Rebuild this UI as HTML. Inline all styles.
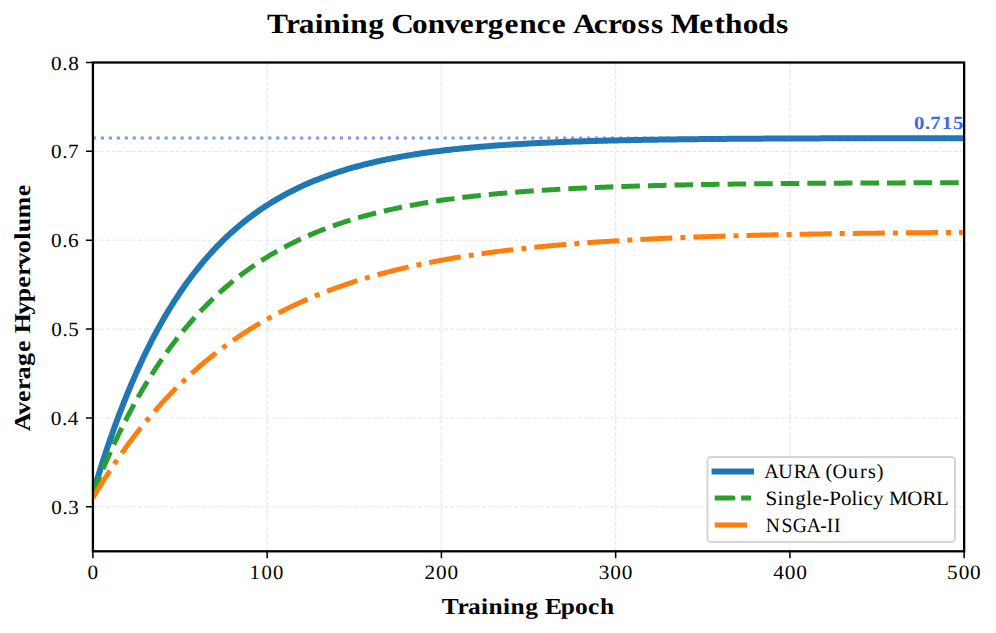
<!DOCTYPE html><html><head><meta charset="utf-8"><title>Training Convergence Across Methods</title><style>html,body{margin:0;padding:0;background:#fff;}svg{display:block;}text{font-family:"Liberation Serif",serif;font-kerning:none;text-rendering:geometricPrecision;}</style></head><body>
<svg width="996" height="633" viewBox="0 0 996 633">
<rect width="996" height="633" fill="#fff"/>
<defs><clipPath id="ax"><rect x="92.92" y="62.50" width="871.22" height="488.80"/></clipPath></defs>
<g clip-path="url(#ax)">
<path d="M92.92 551.30 V62.50 M267.16 551.30 V62.50 M441.41 551.30 V62.50 M615.65 551.30 V62.50 M789.90 551.30 V62.50 M964.14 551.30 V62.50 M92.92 506.85 H964.14 M92.92 417.98 H964.14 M92.92 329.11 H964.14 M92.92 240.24 H964.14 M92.92 151.37 H964.14 M92.92 62.50 H964.14" stroke="#b0b0b0" stroke-opacity="0.3" stroke-width="1.20" stroke-dasharray="4.450 1.925" fill="none"/>
<path d="M92.92 493.52 L94.66 487.64 L96.4 481.87 L98.15 476.18 L99.89 470.59 L101.63 465.1 L103.37 459.69 L105.12 454.37 L106.86 449.15 L108.6 444 L110.34 438.95 L112.09 433.97 L113.83 429.08 L115.57 424.27 L117.31 419.54 L119.06 414.89 L120.8 410.31 L122.54 405.81 L124.28 401.39 L126.03 397.03 L127.77 392.75 L129.51 388.54 L131.25 384.4 L133 380.33 L134.74 376.32 L136.48 372.39 L138.22 368.51 L139.97 364.7 L141.71 360.96 L143.45 357.27 L145.19 353.65 L146.94 350.09 L148.68 346.58 L150.42 343.13 L152.16 339.74 L153.91 336.41 L155.65 333.13 L157.39 329.91 L159.13 326.74 L160.88 323.62 L162.62 320.55 L164.36 317.53 L166.1 314.57 L167.84 311.65 L169.59 308.78 L171.33 305.96 L173.07 303.18 L174.81 300.45 L176.56 297.77 L178.3 295.13 L180.04 292.53 L181.78 289.98 L183.53 287.47 L185.27 285 L187.01 282.57 L188.75 280.18 L190.5 277.83 L192.24 275.52 L193.98 273.25 L195.72 271.01 L197.47 268.81 L199.21 266.65 L200.95 264.53 L202.69 262.44 L204.44 260.38 L206.18 258.36 L207.92 256.37 L209.66 254.41 L211.41 252.49 L213.15 250.6 L214.89 248.74 L216.63 246.91 L218.38 245.11 L220.12 243.34 L221.86 241.6 L223.6 239.89 L225.35 238.2 L227.09 236.55 L228.83 234.92 L230.57 233.32 L232.32 231.74 L234.06 230.19 L235.8 228.67 L237.54 227.17 L239.28 225.7 L241.03 224.25 L242.77 222.83 L244.51 221.42 L246.25 220.05 L248 218.69 L249.74 217.36 L251.48 216.05 L253.22 214.76 L254.97 213.49 L256.71 212.24 L258.45 211.02 L260.19 209.81 L261.94 208.62 L263.68 207.46 L265.42 206.31 L267.16 205.18 L268.91 204.07 L270.65 202.98 L272.39 201.91 L274.13 200.85 L275.88 199.81 L277.62 198.79 L279.36 197.79 L281.1 196.8 L282.85 195.83 L284.59 194.87 L286.33 193.93 L288.07 193.01 L289.82 192.1 L291.56 191.21 L293.3 190.33 L295.04 189.47 L296.79 188.62 L298.53 187.78 L300.27 186.96 L302.01 186.15 L303.76 185.35 L305.5 184.57 L307.24 183.8 L308.98 183.05 L310.73 182.3 L312.47 181.57 L314.21 180.85 L315.95 180.14 L317.69 179.45 L319.44 178.76 L321.18 178.09 L322.92 177.43 L324.66 176.78 L326.41 176.14 L328.15 175.51 L329.89 174.89 L331.63 174.28 L333.38 173.68 L335.12 173.09 L336.86 172.51 L338.6 171.94 L340.35 171.38 L342.09 170.83 L343.83 170.29 L345.57 169.75 L347.32 169.23 L349.06 168.72 L350.8 168.21 L352.54 167.71 L354.29 167.22 L356.03 166.74 L357.77 166.26 L359.51 165.8 L361.26 165.34 L363 164.89 L364.74 164.44 L366.48 164.01 L368.23 163.58 L369.97 163.15 L371.71 162.74 L373.45 162.33 L375.2 161.93 L376.94 161.53 L378.68 161.15 L380.42 160.76 L382.17 160.39 L383.91 160.02 L385.65 159.66 L387.39 159.3 L389.13 158.95 L390.88 158.6 L392.62 158.26 L394.36 157.93 L396.1 157.6 L397.85 157.28 L399.59 156.96 L401.33 156.65 L403.07 156.34 L404.82 156.04 L406.56 155.74 L408.3 155.45 L410.04 155.16 L411.79 154.87 L413.53 154.6 L415.27 154.32 L417.01 154.05 L418.76 153.79 L420.5 153.53 L422.24 153.27 L423.98 153.02 L425.73 152.77 L427.47 152.53 L429.21 152.29 L430.95 152.05 L432.7 151.82 L434.44 151.6 L436.18 151.37 L437.92 151.15 L439.67 150.93 L441.41 150.72 L443.15 150.51 L444.89 150.31 L446.64 150.1 L448.38 149.9 L450.12 149.71 L451.86 149.51 L453.61 149.32 L455.35 149.14 L457.09 148.95 L458.83 148.77 L460.57 148.6 L462.32 148.42 L464.06 148.25 L465.8 148.08 L467.54 147.92 L469.29 147.75 L471.03 147.59 L472.77 147.43 L474.51 147.28 L476.26 147.13 L478 146.98 L479.74 146.83 L481.48 146.68 L483.23 146.54 L484.97 146.4 L486.71 146.26 L488.45 146.13 L490.2 145.99 L491.94 145.86 L493.68 145.73 L495.42 145.6 L497.17 145.48 L498.91 145.36 L500.65 145.24 L502.39 145.12 L504.14 145 L505.88 144.88 L507.62 144.77 L509.36 144.66 L511.11 144.55 L512.85 144.44 L514.59 144.34 L516.33 144.23 L518.08 144.13 L519.82 144.03 L521.56 143.93 L523.3 143.83 L525.05 143.74 L526.79 143.64 L528.53 143.55 L530.27 143.46 L532.01 143.37 L533.76 143.28 L535.5 143.2 L537.24 143.11 L538.98 143.03 L540.73 142.94 L542.47 142.86 L544.21 142.78 L545.95 142.7 L547.7 142.63 L549.44 142.55 L551.18 142.48 L552.92 142.4 L554.67 142.33 L556.41 142.26 L558.15 142.19 L559.89 142.12 L561.64 142.05 L563.38 141.99 L565.12 141.92 L566.86 141.86 L568.61 141.8 L570.35 141.73 L572.09 141.67 L573.83 141.61 L575.58 141.55 L577.32 141.5 L579.06 141.44 L580.8 141.38 L582.55 141.33 L584.29 141.27 L586.03 141.22 L587.77 141.17 L589.52 141.12 L591.26 141.06 L593 141.01 L594.74 140.97 L596.49 140.92 L598.23 140.87 L599.97 140.82 L601.71 140.78 L603.45 140.73 L605.2 140.69 L606.94 140.64 L608.68 140.6 L610.42 140.56 L612.17 140.52 L613.91 140.47 L615.65 140.43 L617.39 140.4 L619.14 140.36 L620.88 140.32 L622.62 140.28 L624.36 140.24 L626.11 140.21 L627.85 140.17 L629.59 140.14 L631.33 140.1 L633.08 140.07 L634.82 140.03 L636.56 140 L638.3 139.97 L640.05 139.94 L641.79 139.9 L643.53 139.87 L645.27 139.84 L647.02 139.81 L648.76 139.78 L650.5 139.76 L652.24 139.73 L653.99 139.7 L655.73 139.67 L657.47 139.65 L659.21 139.62 L660.96 139.59 L662.7 139.57 L664.44 139.54 L666.18 139.52 L667.93 139.49 L669.67 139.47 L671.41 139.44 L673.15 139.42 L674.89 139.4 L676.64 139.38 L678.38 139.35 L680.12 139.33 L681.86 139.31 L683.61 139.29 L685.35 139.27 L687.09 139.25 L688.83 139.23 L690.58 139.21 L692.32 139.19 L694.06 139.17 L695.8 139.15 L697.55 139.13 L699.29 139.12 L701.03 139.1 L702.77 139.08 L704.52 139.06 L706.26 139.05 L708 139.03 L709.74 139.01 L711.49 139 L713.23 138.98 L714.97 138.97 L716.71 138.95 L718.46 138.94 L720.2 138.92 L721.94 138.91 L723.68 138.89 L725.43 138.88 L727.17 138.86 L728.91 138.85 L730.65 138.84 L732.4 138.82 L734.14 138.81 L735.88 138.8 L737.62 138.79 L739.37 138.77 L741.11 138.76 L742.85 138.75 L744.59 138.74 L746.33 138.73 L748.08 138.71 L749.82 138.7 L751.56 138.69 L753.3 138.68 L755.05 138.67 L756.79 138.66 L758.53 138.65 L760.27 138.64 L762.02 138.63 L763.76 138.62 L765.5 138.61 L767.24 138.6 L768.99 138.59 L770.73 138.58 L772.47 138.57 L774.21 138.57 L775.96 138.56 L777.7 138.55 L779.44 138.54 L781.18 138.53 L782.93 138.52 L784.67 138.52 L786.41 138.51 L788.15 138.5 L789.9 138.49 L791.64 138.48 L793.38 138.48 L795.12 138.47 L796.87 138.46 L798.61 138.46 L800.35 138.45 L802.09 138.44 L803.84 138.44 L805.58 138.43 L807.32 138.42 L809.06 138.42 L810.81 138.41 L812.55 138.4 L814.29 138.4 L816.03 138.39 L817.78 138.39 L819.52 138.38 L821.26 138.37 L823 138.37 L824.74 138.36 L826.49 138.36 L828.23 138.35 L829.97 138.35 L831.71 138.34 L833.46 138.34 L835.2 138.33 L836.94 138.33 L838.68 138.32 L840.43 138.32 L842.17 138.31 L843.91 138.31 L845.65 138.3 L847.4 138.3 L849.14 138.3 L850.88 138.29 L852.62 138.29 L854.37 138.28 L856.11 138.28 L857.85 138.28 L859.59 138.27 L861.34 138.27 L863.08 138.26 L864.82 138.26 L866.56 138.26 L868.31 138.25 L870.05 138.25 L871.79 138.25 L873.53 138.24 L875.28 138.24 L877.02 138.24 L878.76 138.23 L880.5 138.23 L882.25 138.23 L883.99 138.22 L885.73 138.22 L887.47 138.22 L889.22 138.21 L890.96 138.21 L892.7 138.21 L894.44 138.21 L896.18 138.2 L897.93 138.2 L899.67 138.2 L901.41 138.2 L903.15 138.19 L904.9 138.19 L906.64 138.19 L908.38 138.19 L910.12 138.18 L911.87 138.18 L913.61 138.18 L915.35 138.18 L917.09 138.17 L918.84 138.17 L920.58 138.17 L922.32 138.17 L924.06 138.16 L925.81 138.16 L927.55 138.16 L929.29 138.16 L931.03 138.16 L932.78 138.15 L934.52 138.15 L936.26 138.15 L938 138.15 L939.75 138.15 L941.49 138.15 L943.23 138.14 L944.97 138.14 L946.72 138.14 L948.46 138.14 L950.2 138.14 L951.94 138.14 L953.69 138.13 L955.43 138.13 L957.17 138.13 L958.91 138.13 L960.66 138.13 L962.4 138.13 L964.14 138.12" stroke="#1f77b4" stroke-width="6.0" fill="none" stroke-linejoin="round"/>
<path d="M92.92 138.04 H964.14" stroke="#4169e1" stroke-opacity="0.7" stroke-width="3.01" stroke-dasharray="3.008 4.963" fill="none"/>
<path d="M92.92 493.52 L94.66 489.11 L96.4 484.76 L98.15 480.47 L99.89 476.24 L101.63 472.08 L103.37 467.97 L105.12 463.92 L106.86 459.93 L108.6 455.99 L110.34 452.11 L112.09 448.29 L113.83 444.52 L115.57 440.8 L117.31 437.14 L119.06 433.52 L120.8 429.96 L122.54 426.45 L124.28 422.99 L126.03 419.58 L127.77 416.22 L129.51 412.9 L131.25 409.63 L133 406.41 L134.74 403.24 L136.48 400.1 L138.22 397.02 L139.97 393.97 L141.71 390.97 L143.45 388.02 L145.19 385.1 L146.94 382.23 L148.68 379.39 L150.42 376.6 L152.16 373.85 L153.91 371.13 L155.65 368.46 L157.39 365.82 L159.13 363.22 L160.88 360.65 L162.62 358.13 L164.36 355.64 L166.1 353.18 L167.84 350.76 L169.59 348.37 L171.33 346.02 L173.07 343.7 L174.81 341.41 L176.56 339.16 L178.3 336.93 L180.04 334.74 L181.78 332.58 L183.53 330.45 L185.27 328.36 L187.01 326.29 L188.75 324.25 L190.5 322.24 L192.24 320.25 L193.98 318.3 L195.72 316.37 L197.47 314.47 L199.21 312.6 L200.95 310.76 L202.69 308.94 L204.44 307.14 L206.18 305.37 L207.92 303.63 L209.66 301.91 L211.41 300.22 L213.15 298.55 L214.89 296.9 L216.63 295.28 L218.38 293.68 L220.12 292.1 L221.86 290.55 L223.6 289.01 L225.35 287.5 L227.09 286.01 L228.83 284.54 L230.57 283.1 L232.32 281.67 L234.06 280.26 L235.8 278.87 L237.54 277.51 L239.28 276.16 L241.03 274.83 L242.77 273.52 L244.51 272.23 L246.25 270.96 L248 269.7 L249.74 268.46 L251.48 267.24 L253.22 266.04 L254.97 264.86 L256.71 263.69 L258.45 262.54 L260.19 261.4 L261.94 260.28 L263.68 259.18 L265.42 258.09 L267.16 257.02 L268.91 255.96 L270.65 254.92 L272.39 253.89 L274.13 252.88 L275.88 251.88 L277.62 250.89 L279.36 249.92 L281.1 248.97 L282.85 248.02 L284.59 247.09 L286.33 246.18 L288.07 245.27 L289.82 244.38 L291.56 243.5 L293.3 242.64 L295.04 241.79 L296.79 240.94 L298.53 240.11 L300.27 239.3 L302.01 238.49 L303.76 237.7 L305.5 236.91 L307.24 236.14 L308.98 235.38 L310.73 234.63 L312.47 233.89 L314.21 233.16 L315.95 232.44 L317.69 231.73 L319.44 231.03 L321.18 230.35 L322.92 229.67 L324.66 229 L326.41 228.34 L328.15 227.69 L329.89 227.05 L331.63 226.41 L333.38 225.79 L335.12 225.18 L336.86 224.57 L338.6 223.97 L340.35 223.38 L342.09 222.8 L343.83 222.23 L345.57 221.67 L347.32 221.11 L349.06 220.56 L350.8 220.02 L352.54 219.49 L354.29 218.97 L356.03 218.45 L357.77 217.94 L359.51 217.44 L361.26 216.94 L363 216.45 L364.74 215.97 L366.48 215.49 L368.23 215.03 L369.97 214.56 L371.71 214.11 L373.45 213.66 L375.2 213.22 L376.94 212.78 L378.68 212.35 L380.42 211.93 L382.17 211.51 L383.91 211.1 L385.65 210.69 L387.39 210.29 L389.13 209.9 L390.88 209.51 L392.62 209.12 L394.36 208.75 L396.1 208.37 L397.85 208.01 L399.59 207.64 L401.33 207.29 L403.07 206.94 L404.82 206.59 L406.56 206.25 L408.3 205.91 L410.04 205.58 L411.79 205.25 L413.53 204.93 L415.27 204.61 L417.01 204.29 L418.76 203.98 L420.5 203.68 L422.24 203.38 L423.98 203.08 L425.73 202.79 L427.47 202.5 L429.21 202.22 L430.95 201.94 L432.7 201.66 L434.44 201.39 L436.18 201.12 L437.92 200.86 L439.67 200.6 L441.41 200.34 L443.15 200.09 L444.89 199.84 L446.64 199.59 L448.38 199.35 L450.12 199.11 L451.86 198.87 L453.61 198.64 L455.35 198.41 L457.09 198.18 L458.83 197.96 L460.57 197.74 L462.32 197.52 L464.06 197.31 L465.8 197.1 L467.54 196.89 L469.29 196.69 L471.03 196.49 L472.77 196.29 L474.51 196.09 L476.26 195.9 L478 195.71 L479.74 195.52 L481.48 195.34 L483.23 195.15 L484.97 194.97 L486.71 194.8 L488.45 194.62 L490.2 194.45 L491.94 194.28 L493.68 194.11 L495.42 193.95 L497.17 193.78 L498.91 193.62 L500.65 193.47 L502.39 193.31 L504.14 193.16 L505.88 193 L507.62 192.86 L509.36 192.71 L511.11 192.56 L512.85 192.42 L514.59 192.28 L516.33 192.14 L518.08 192 L519.82 191.87 L521.56 191.73 L523.3 191.6 L525.05 191.47 L526.79 191.35 L528.53 191.22 L530.27 191.1 L532.01 190.97 L533.76 190.85 L535.5 190.73 L537.24 190.62 L538.98 190.5 L540.73 190.39 L542.47 190.28 L544.21 190.16 L545.95 190.06 L547.7 189.95 L549.44 189.84 L551.18 189.74 L552.92 189.63 L554.67 189.53 L556.41 189.43 L558.15 189.33 L559.89 189.24 L561.64 189.14 L563.38 189.05 L565.12 188.95 L566.86 188.86 L568.61 188.77 L570.35 188.68 L572.09 188.59 L573.83 188.51 L575.58 188.42 L577.32 188.34 L579.06 188.25 L580.8 188.17 L582.55 188.09 L584.29 188.01 L586.03 187.93 L587.77 187.86 L589.52 187.78 L591.26 187.7 L593 187.63 L594.74 187.56 L596.49 187.48 L598.23 187.41 L599.97 187.34 L601.71 187.27 L603.45 187.21 L605.2 187.14 L606.94 187.07 L608.68 187.01 L610.42 186.94 L612.17 186.88 L613.91 186.82 L615.65 186.76 L617.39 186.69 L619.14 186.64 L620.88 186.58 L622.62 186.52 L624.36 186.46 L626.11 186.4 L627.85 186.35 L629.59 186.29 L631.33 186.24 L633.08 186.19 L634.82 186.13 L636.56 186.08 L638.3 186.03 L640.05 185.98 L641.79 185.93 L643.53 185.88 L645.27 185.83 L647.02 185.78 L648.76 185.74 L650.5 185.69 L652.24 185.65 L653.99 185.6 L655.73 185.56 L657.47 185.51 L659.21 185.47 L660.96 185.43 L662.7 185.39 L664.44 185.34 L666.18 185.3 L667.93 185.26 L669.67 185.22 L671.41 185.18 L673.15 185.15 L674.89 185.11 L676.64 185.07 L678.38 185.03 L680.12 185 L681.86 184.96 L683.61 184.93 L685.35 184.89 L687.09 184.86 L688.83 184.82 L690.58 184.79 L692.32 184.76 L694.06 184.73 L695.8 184.69 L697.55 184.66 L699.29 184.63 L701.03 184.6 L702.77 184.57 L704.52 184.54 L706.26 184.51 L708 184.48 L709.74 184.45 L711.49 184.43 L713.23 184.4 L714.97 184.37 L716.71 184.34 L718.46 184.32 L720.2 184.29 L721.94 184.27 L723.68 184.24 L725.43 184.22 L727.17 184.19 L728.91 184.17 L730.65 184.14 L732.4 184.12 L734.14 184.1 L735.88 184.07 L737.62 184.05 L739.37 184.03 L741.11 184.01 L742.85 183.98 L744.59 183.96 L746.33 183.94 L748.08 183.92 L749.82 183.9 L751.56 183.88 L753.3 183.86 L755.05 183.84 L756.79 183.82 L758.53 183.8 L760.27 183.78 L762.02 183.76 L763.76 183.75 L765.5 183.73 L767.24 183.71 L768.99 183.69 L770.73 183.68 L772.47 183.66 L774.21 183.64 L775.96 183.62 L777.7 183.61 L779.44 183.59 L781.18 183.58 L782.93 183.56 L784.67 183.55 L786.41 183.53 L788.15 183.52 L789.9 183.5 L791.64 183.49 L793.38 183.47 L795.12 183.46 L796.87 183.44 L798.61 183.43 L800.35 183.42 L802.09 183.4 L803.84 183.39 L805.58 183.38 L807.32 183.36 L809.06 183.35 L810.81 183.34 L812.55 183.33 L814.29 183.31 L816.03 183.3 L817.78 183.29 L819.52 183.28 L821.26 183.27 L823 183.26 L824.74 183.25 L826.49 183.23 L828.23 183.22 L829.97 183.21 L831.71 183.2 L833.46 183.19 L835.2 183.18 L836.94 183.17 L838.68 183.16 L840.43 183.15 L842.17 183.14 L843.91 183.13 L845.65 183.12 L847.4 183.11 L849.14 183.11 L850.88 183.1 L852.62 183.09 L854.37 183.08 L856.11 183.07 L857.85 183.06 L859.59 183.05 L861.34 183.05 L863.08 183.04 L864.82 183.03 L866.56 183.02 L868.31 183.01 L870.05 183.01 L871.79 183 L873.53 182.99 L875.28 182.98 L877.02 182.98 L878.76 182.97 L880.5 182.96 L882.25 182.96 L883.99 182.95 L885.73 182.94 L887.47 182.94 L889.22 182.93 L890.96 182.92 L892.7 182.92 L894.44 182.91 L896.18 182.9 L897.93 182.9 L899.67 182.89 L901.41 182.89 L903.15 182.88 L904.9 182.87 L906.64 182.87 L908.38 182.86 L910.12 182.86 L911.87 182.85 L913.61 182.85 L915.35 182.84 L917.09 182.84 L918.84 182.83 L920.58 182.83 L922.32 182.82 L924.06 182.82 L925.81 182.81 L927.55 182.81 L929.29 182.8 L931.03 182.8 L932.78 182.79 L934.52 182.79 L936.26 182.78 L938 182.78 L939.75 182.77 L941.49 182.77 L943.23 182.77 L944.97 182.76 L946.72 182.76 L948.46 182.75 L950.2 182.75 L951.94 182.75 L953.69 182.74 L955.43 182.74 L957.17 182.73 L958.91 182.73 L960.66 182.73 L962.4 182.72 L964.14 182.72" stroke="#2ca02c" stroke-width="5.013" fill="none" stroke-linejoin="round" stroke-dasharray="18.548 8.021"/>
<path d="M92.92 497.96 L94.66 495.02 L96.4 492.1 L98.15 489.22 L99.89 486.37 L101.63 483.56 L103.37 480.77 L105.12 478.01 L106.86 475.29 L108.6 472.59 L110.34 469.93 L112.09 467.29 L113.83 464.68 L115.57 462.1 L117.31 459.56 L119.06 457.03 L120.8 454.54 L122.54 452.07 L124.28 449.63 L126.03 447.22 L127.77 444.84 L129.51 442.48 L131.25 440.15 L133 437.84 L134.74 435.56 L136.48 433.3 L138.22 431.07 L139.97 428.86 L141.71 426.68 L143.45 424.52 L145.19 422.39 L146.94 420.28 L148.68 418.19 L150.42 416.12 L152.16 414.08 L153.91 412.06 L155.65 410.07 L157.39 408.09 L159.13 406.14 L160.88 404.21 L162.62 402.3 L164.36 400.41 L166.1 398.54 L167.84 396.69 L169.59 394.87 L171.33 393.06 L173.07 391.27 L174.81 389.51 L176.56 387.76 L178.3 386.03 L180.04 384.32 L181.78 382.63 L183.53 380.96 L185.27 379.31 L187.01 377.67 L188.75 376.05 L190.5 374.46 L192.24 372.87 L193.98 371.31 L195.72 369.76 L197.47 368.24 L199.21 366.72 L200.95 365.23 L202.69 363.75 L204.44 362.28 L206.18 360.84 L207.92 359.41 L209.66 357.99 L211.41 356.59 L213.15 355.21 L214.89 353.84 L216.63 352.49 L218.38 351.15 L220.12 349.82 L221.86 348.52 L223.6 347.22 L225.35 345.94 L227.09 344.67 L228.83 343.42 L230.57 342.18 L232.32 340.96 L234.06 339.75 L235.8 338.55 L237.54 337.37 L239.28 336.19 L241.03 335.04 L242.77 333.89 L244.51 332.76 L246.25 331.64 L248 330.53 L249.74 329.43 L251.48 328.35 L253.22 327.28 L254.97 326.22 L256.71 325.17 L258.45 324.13 L260.19 323.11 L261.94 322.09 L263.68 321.09 L265.42 320.1 L267.16 319.12 L268.91 318.15 L270.65 317.19 L272.39 316.24 L274.13 315.3 L275.88 314.38 L277.62 313.46 L279.36 312.55 L281.1 311.65 L282.85 310.77 L284.59 309.89 L286.33 309.02 L288.07 308.16 L289.82 307.31 L291.56 306.48 L293.3 305.65 L295.04 304.82 L296.79 304.01 L298.53 303.21 L300.27 302.42 L302.01 301.63 L303.76 300.85 L305.5 300.09 L307.24 299.33 L308.98 298.58 L310.73 297.83 L312.47 297.1 L314.21 296.37 L315.95 295.65 L317.69 294.94 L319.44 294.24 L321.18 293.55 L322.92 292.86 L324.66 292.18 L326.41 291.51 L328.15 290.84 L329.89 290.18 L331.63 289.53 L333.38 288.89 L335.12 288.26 L336.86 287.63 L338.6 287.01 L340.35 286.39 L342.09 285.78 L343.83 285.18 L345.57 284.59 L347.32 284 L349.06 283.42 L350.8 282.84 L352.54 282.27 L354.29 281.71 L356.03 281.15 L357.77 280.6 L359.51 280.06 L361.26 279.52 L363 278.99 L364.74 278.46 L366.48 277.94 L368.23 277.43 L369.97 276.92 L371.71 276.41 L373.45 275.92 L375.2 275.42 L376.94 274.94 L378.68 274.45 L380.42 273.98 L382.17 273.51 L383.91 273.04 L385.65 272.58 L387.39 272.13 L389.13 271.68 L390.88 271.23 L392.62 270.79 L394.36 270.35 L396.1 269.92 L397.85 269.5 L399.59 269.07 L401.33 268.66 L403.07 268.25 L404.82 267.84 L406.56 267.43 L408.3 267.04 L410.04 266.64 L411.79 266.25 L413.53 265.87 L415.27 265.48 L417.01 265.11 L418.76 264.73 L420.5 264.37 L422.24 264 L423.98 263.64 L425.73 263.28 L427.47 262.93 L429.21 262.58 L430.95 262.24 L432.7 261.9 L434.44 261.56 L436.18 261.22 L437.92 260.89 L439.67 260.57 L441.41 260.24 L443.15 259.93 L444.89 259.61 L446.64 259.3 L448.38 258.99 L450.12 258.68 L451.86 258.38 L453.61 258.08 L455.35 257.79 L457.09 257.5 L458.83 257.21 L460.57 256.92 L462.32 256.64 L464.06 256.36 L465.8 256.08 L467.54 255.81 L469.29 255.54 L471.03 255.27 L472.77 255.01 L474.51 254.75 L476.26 254.49 L478 254.23 L479.74 253.98 L481.48 253.73 L483.23 253.48 L484.97 253.24 L486.71 253 L488.45 252.76 L490.2 252.52 L491.94 252.29 L493.68 252.06 L495.42 251.83 L497.17 251.6 L498.91 251.38 L500.65 251.16 L502.39 250.94 L504.14 250.72 L505.88 250.51 L507.62 250.29 L509.36 250.08 L511.11 249.88 L512.85 249.67 L514.59 249.47 L516.33 249.27 L518.08 249.07 L519.82 248.88 L521.56 248.68 L523.3 248.49 L525.05 248.3 L526.79 248.12 L528.53 247.93 L530.27 247.75 L532.01 247.57 L533.76 247.39 L535.5 247.21 L537.24 247.03 L538.98 246.86 L540.73 246.69 L542.47 246.52 L544.21 246.35 L545.95 246.19 L547.7 246.02 L549.44 245.86 L551.18 245.7 L552.92 245.54 L554.67 245.39 L556.41 245.23 L558.15 245.08 L559.89 244.93 L561.64 244.78 L563.38 244.63 L565.12 244.48 L566.86 244.34 L568.61 244.19 L570.35 244.05 L572.09 243.91 L573.83 243.77 L575.58 243.63 L577.32 243.5 L579.06 243.36 L580.8 243.23 L582.55 243.1 L584.29 242.97 L586.03 242.84 L587.77 242.71 L589.52 242.59 L591.26 242.46 L593 242.34 L594.74 242.22 L596.49 242.1 L598.23 241.98 L599.97 241.86 L601.71 241.75 L603.45 241.63 L605.2 241.52 L606.94 241.41 L608.68 241.3 L610.42 241.19 L612.17 241.08 L613.91 240.97 L615.65 240.86 L617.39 240.76 L619.14 240.66 L620.88 240.55 L622.62 240.45 L624.36 240.35 L626.11 240.25 L627.85 240.15 L629.59 240.06 L631.33 239.96 L633.08 239.86 L634.82 239.77 L636.56 239.68 L638.3 239.58 L640.05 239.49 L641.79 239.4 L643.53 239.31 L645.27 239.23 L647.02 239.14 L648.76 239.05 L650.5 238.97 L652.24 238.88 L653.99 238.8 L655.73 238.72 L657.47 238.64 L659.21 238.56 L660.96 238.48 L662.7 238.4 L664.44 238.32 L666.18 238.24 L667.93 238.17 L669.67 238.09 L671.41 238.02 L673.15 237.94 L674.89 237.87 L676.64 237.8 L678.38 237.73 L680.12 237.66 L681.86 237.59 L683.61 237.52 L685.35 237.45 L687.09 237.38 L688.83 237.32 L690.58 237.25 L692.32 237.19 L694.06 237.12 L695.8 237.06 L697.55 236.99 L699.29 236.93 L701.03 236.87 L702.77 236.81 L704.52 236.75 L706.26 236.69 L708 236.63 L709.74 236.57 L711.49 236.52 L713.23 236.46 L714.97 236.4 L716.71 236.35 L718.46 236.29 L720.2 236.24 L721.94 236.18 L723.68 236.13 L725.43 236.08 L727.17 236.02 L728.91 235.97 L730.65 235.92 L732.4 235.87 L734.14 235.82 L735.88 235.77 L737.62 235.72 L739.37 235.67 L741.11 235.63 L742.85 235.58 L744.59 235.53 L746.33 235.49 L748.08 235.44 L749.82 235.4 L751.56 235.35 L753.3 235.31 L755.05 235.26 L756.79 235.22 L758.53 235.18 L760.27 235.13 L762.02 235.09 L763.76 235.05 L765.5 235.01 L767.24 234.97 L768.99 234.93 L770.73 234.89 L772.47 234.85 L774.21 234.81 L775.96 234.78 L777.7 234.74 L779.44 234.7 L781.18 234.66 L782.93 234.63 L784.67 234.59 L786.41 234.55 L788.15 234.52 L789.9 234.48 L791.64 234.45 L793.38 234.42 L795.12 234.38 L796.87 234.35 L798.61 234.31 L800.35 234.28 L802.09 234.25 L803.84 234.22 L805.58 234.19 L807.32 234.15 L809.06 234.12 L810.81 234.09 L812.55 234.06 L814.29 234.03 L816.03 234 L817.78 233.97 L819.52 233.95 L821.26 233.92 L823 233.89 L824.74 233.86 L826.49 233.83 L828.23 233.8 L829.97 233.78 L831.71 233.75 L833.46 233.72 L835.2 233.7 L836.94 233.67 L838.68 233.65 L840.43 233.62 L842.17 233.6 L843.91 233.57 L845.65 233.55 L847.4 233.52 L849.14 233.5 L850.88 233.48 L852.62 233.45 L854.37 233.43 L856.11 233.41 L857.85 233.38 L859.59 233.36 L861.34 233.34 L863.08 233.32 L864.82 233.29 L866.56 233.27 L868.31 233.25 L870.05 233.23 L871.79 233.21 L873.53 233.19 L875.28 233.17 L877.02 233.15 L878.76 233.13 L880.5 233.11 L882.25 233.09 L883.99 233.07 L885.73 233.05 L887.47 233.03 L889.22 233.01 L890.96 233 L892.7 232.98 L894.44 232.96 L896.18 232.94 L897.93 232.93 L899.67 232.91 L901.41 232.89 L903.15 232.87 L904.9 232.86 L906.64 232.84 L908.38 232.82 L910.12 232.81 L911.87 232.79 L913.61 232.78 L915.35 232.76 L917.09 232.74 L918.84 232.73 L920.58 232.71 L922.32 232.7 L924.06 232.68 L925.81 232.67 L927.55 232.65 L929.29 232.64 L931.03 232.63 L932.78 232.61 L934.52 232.6 L936.26 232.58 L938 232.57 L939.75 232.56 L941.49 232.54 L943.23 232.53 L944.97 232.52 L946.72 232.5 L948.46 232.49 L950.2 232.48 L951.94 232.47 L953.69 232.45 L955.43 232.44 L957.17 232.43 L958.91 232.42 L960.66 232.41 L962.4 232.4 L964.14 232.38" stroke="#ff7f0e" stroke-width="5.013" fill="none" stroke-linejoin="round" stroke-dasharray="32.083 8.021 5.013 8.021"/>
</g>
<text transform="matrix(0.20794 0 0 0.18539 0 129.178)" x="4395.7 4448.4 4474.2 4529.0 4583.2" y="0" font-size="100" font-weight="bold" fill="#4169e1">0.715</text>
<rect x="707.5" y="457.0" width="247.5" height="85.1" rx="3.6" ry="3.6" fill="#fff" fill-opacity="0.8" stroke="#cccccc" stroke-opacity="0.8" stroke-width="2.0"/>
<path d="M711.6 471.6 H754.0" stroke="#1f77b4" stroke-width="6.0"/>
<path d="M714.7 495.6 H733.0 A2.5 2.5 0 0 1 733.0 500.6 H714.7 Z M741.1 495.6 H751.0 V500.6 H741.1 Z" fill="#2ca02c"/>
<path d="M714.7 524.9 H747.0" stroke="#ff7f0e" stroke-width="5.013"/>
<text transform="matrix(0.20164 0 0 0.20388 0 477.750)" x="3790.0 3859.9 3936.0 3996.9 4066.9 4094.1 4128.9 4205.1 4264.8 4305.2 4348.6" y="0" font-size="100" font-weight="normal" fill="#000">AURA (Ours)</text>
<text transform="matrix(0.20951 0 0 0.20388 0 504.620)" x="3653.2 3710.5 3740.3 3795.2 3847.8 3878.5 3924.1 3957.8 4014.0 4064.7 4092.7 4121.5 4166.5 4217.6 4243.3 4330.9 4403.2 4467.8" y="0" font-size="100" font-weight="normal" fill="#000">Single-Policy MORL</text>
<text transform="matrix(0.19643 0 0 0.20388 0 531.500)" x="3898.4 3978.5 4036.4 4107.7 4175.6 4209.2 4245.4" y="0" font-size="100" font-weight="normal" fill="#000">NSGA-II</text>
<rect x="92.92" y="62.50" width="871.22" height="488.80" fill="none" stroke="#000" stroke-width="2.3"/>
<path d="M92.92 551.30 V558.30 M267.16 551.30 V558.30 M441.41 551.30 V558.30 M615.65 551.30 V558.30 M789.90 551.30 V558.30 M964.14 551.30 V558.30 M92.92 506.85 H85.92 M92.92 417.98 H85.92 M92.92 329.11 H85.92 M92.92 240.24 H85.92 M92.92 151.37 H85.92 M92.92 62.50 H85.92" stroke="#000" stroke-width="1.5" fill="none"/>
<text transform="matrix(0.21101 0 0 0.20154 0 513.902)" x="242.4 295.7 323.5" y="0" font-size="100" font-weight="normal" fill="#000">0.3</text>
<text transform="matrix(0.21256 0 0 0.20154 0 425.032)" x="238.5 291.4 318.3" y="0" font-size="100" font-weight="normal" fill="#000">0.4</text>
<text transform="matrix(0.21107 0 0 0.20154 0 336.162)" x="242.6 295.8 323.4" y="0" font-size="100" font-weight="normal" fill="#000">0.5</text>
<text transform="matrix(0.21174 0 0 0.20154 0 247.292)" x="240.6 293.7 321.2" y="0" font-size="100" font-weight="normal" fill="#000">0.6</text>
<text transform="matrix(0.21164 0 0 0.20154 0 158.422)" x="241.5 294.6 321.3" y="0" font-size="100" font-weight="normal" fill="#000">0.7</text>
<text transform="matrix(0.21167 0 0 0.20154 0 69.552)" x="241.0 294.1 322.2" y="0" font-size="100" font-weight="normal" fill="#000">0.8</text>
<text transform="matrix(0.21401 0 0 0.20302 0 578.701)" x="409.2" y="0" font-size="100" font-weight="normal" fill="#000">0</text>
<text transform="matrix(0.20703 0 0 0.20302 0 578.701)" x="1205.4 1263.0 1318.3" y="0" font-size="100" font-weight="normal" fill="#000">100</text>
<text transform="matrix(0.21309 0 0 0.20302 0 578.701)" x="1992.0 2046.4 2100.2" y="0" font-size="100" font-weight="normal" fill="#000">200</text>
<text transform="matrix(0.21325 0 0 0.20302 0 578.701)" x="2807.5 2861.5 2915.2" y="0" font-size="100" font-weight="normal" fill="#000">300</text>
<text transform="matrix(0.21435 0 0 0.20302 0 578.701)" x="3607.1 3661.5 3714.9" y="0" font-size="100" font-weight="normal" fill="#000">400</text>
<text transform="matrix(0.21332 0 0 0.20302 0 578.701)" x="4439.7 4494.0 4547.7" y="0" font-size="100" font-weight="normal" fill="#000">500</text>
<text transform="matrix(0.25348 0 0 0.22755 0 613.900)" x="1742.4 1804.6 1846.4 1897.9 1927.2 1984.6 2013.9 2072.6 2126.2 2150.4 2212.4 2268.0 2320.1 2367.3" y="0" font-size="100" font-weight="bold" fill="#000">Training Epoch</text>
<text transform="matrix(0 -0.25810 0.22770 0 29.970 429.850)" x="-5.5 58.4 107.5 154.4 195.7 247.8 301.9 350.3 374.0 447.3 494.4 550.4 597.3 636.4 684.5 736.3 765.2 820.3 904.8" y="0" font-size="100" font-weight="bold" fill="#000">Average Hypervolume</text>
<text transform="matrix(0.31340 0 0 0.27703 0 32.550)" x="851.7 912.7 953.5 1004.1 1032.5 1088.9 1117.2 1174.7 1227.4 1248.7 1314.8 1365.2 1418.5 1467.1 1513.4 1556.2 1609.7 1656.7 1713.0 1760.7 1808.7 1828.1 1894.5 1939.8 1981.5 2033.9 2077.0 2119.1 2140.5 2231.3 2279.6 2313.6 2370.0 2418.7 2476.0" y="0" font-size="100" font-weight="bold" fill="#000">Training Convergence Across Methods</text>
</svg></body></html>
